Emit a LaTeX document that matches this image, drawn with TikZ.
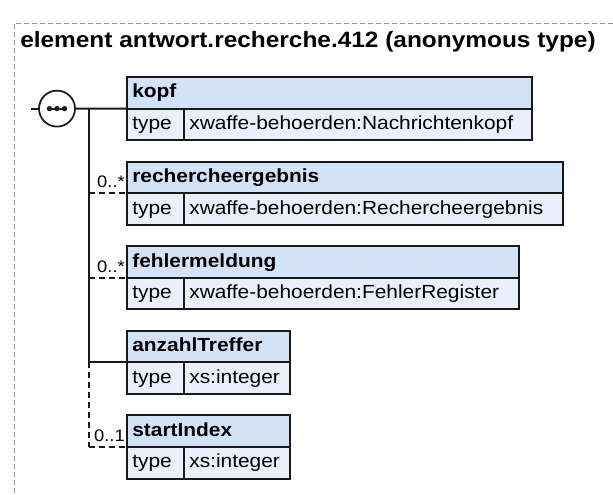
\documentclass[tikz,border=0pt]{standalone}
\usepackage{fontspec}
\setmainfont{Liberation Sans}[FakeStretch=1.1]
\usetikzlibrary{positioning}
\definecolor{headblue}{RGB}{212,226,248}
\definecolor{rowblue}{RGB}{233,240,252}
\definecolor{boxline}{RGB}{25,25,25}
\definecolor{framegray}{RGB}{145,145,145}

\begin{document}
\begin{tikzpicture}[x=0.75pt, y=-0.75pt,
    elem/.style={draw=boxline, fill=headblue, line width=1.5pt, anchor=north west, outer sep=0pt,
        inner xsep=4pt, inner ysep=0pt, minimum height=23.7pt, text height=10.5pt,
        text depth=3pt, align=left, text width=#1, font=\bfseries\fontsize{14.25}{17}\selectfont},
    typecell/.style={draw=boxline, fill=rowblue, line width=1.5pt, anchor=north west, outer sep=0pt,
        inner xsep=4pt, inner ysep=0pt, minimum height=23.7pt, text height=10.5pt,
        text depth=3pt, align=left, text width=34.75pt, font=\fontsize{14.25}{17}\selectfont},
    typeval/.style={typecell, text width=#1},
    conn/.style={draw=boxline, line width=1.4pt},
    optconn/.style={conn, dash pattern=on 4.5pt off 3pt},
    mult/.style={font=\fontsize{12.5}{14}\selectfont, inner sep=0pt, anchor=base east, xshift=-1.5pt, yshift=4pt},
    frame/.style={draw=framegray, line width=0.6pt, dash pattern=on 3.5pt off 2.5pt}
]
\useasboundingbox (0,0) rectangle (613,494);

% outer frame and title
\draw[frame] (613,23) -- (14,23) -- (14,494);
\node[anchor=base west, inner sep=0pt, font=\bfseries\fontsize{16.65}{20}\selectfont] (title) at (20,47.7)
    {element antwort.recherche.412 (anonymous type)};

% elements
\node[elem=295.75pt] (kopf) at (127,77) {kopf};
\node[typecell] (kopft) at (kopf.south west) {type};
\node[typeval=253pt] (kopfv) at (kopft.north east) {xwaffe-behoerden:Nachrichtenkopf};

\node[elem=319pt] (rech) at (127,161.6) {rechercheergebnis};
\node[typecell] (recht) at (rech.south west) {type};
\node[typeval=276.25pt] (rechv) at (recht.north east) {xwaffe-behoerden:Rechercheergebnis};

\node[elem=286pt] (fehler) at (127,246.2) {fehlermeldung};
\node[typecell] (fehlert) at (fehler.south west) {type};
\node[typeval=243.25pt] (fehlerv) at (fehlert.north east) {xwaffe-behoerden:FehlerRegister};

\node[elem=114.25pt] (anzahl) at (127,330.8) {anzahlTreffer};
\node[typecell] (anzahlt) at (anzahl.south west) {type};
\node[typeval=71.5pt] (anzahlv) at (anzahlt.north east) {xs:integer};

\node[elem=114.25pt] (start) at (127,415.4) {startIndex};
\node[typecell] (startt) at (start.south west) {type};
\node[typeval=71.5pt] (startv) at (startt.north east) {xs:integer};

% sequence compositor
\node[circle, draw=boxline, line width=1.3pt, fill=white, minimum size=27pt, inner sep=0pt, outer sep=0pt] (seq) at (57,108.6) {};
\draw[conn] (47,108.6) -- (67,108.6);
\foreach \dx in {49.5,57,64.5}
    \fill[boxline] (\dx,108.6) circle (2pt);

\coordinate (in) at (31,108.6);
\coordinate (j1) at (89,108.6);
\coordinate (j2) at (j1 |- rech.south west);
\coordinate (j3) at (j1 |- fehler.south west);
\coordinate (j4) at (j1 |- anzahl.south west);
\coordinate (j5) at (j1 |- start.south west);

\draw[conn] (in) -- (seq.west);
\draw[conn] (seq.east) -- (kopf.south west);
\draw[conn] (j1) -- (j4);
\draw[optconn] (j4) -- (j5);
\draw[optconn] (j2) -- (rech.south west);
\draw[optconn] (j3) -- (fehler.south west);
\draw[conn] (j4) -- (anzahl.south west);
\draw[optconn] (j5) -- (start.south west);

% multiplicities
\node[mult] (mrech) at (rech.south west) {0..*};
\node[mult] (mfehler) at (fehler.south west) {0..*};
\node[mult] (mstart) at (start.south west) {0..1};
\end{tikzpicture}
\end{document}
